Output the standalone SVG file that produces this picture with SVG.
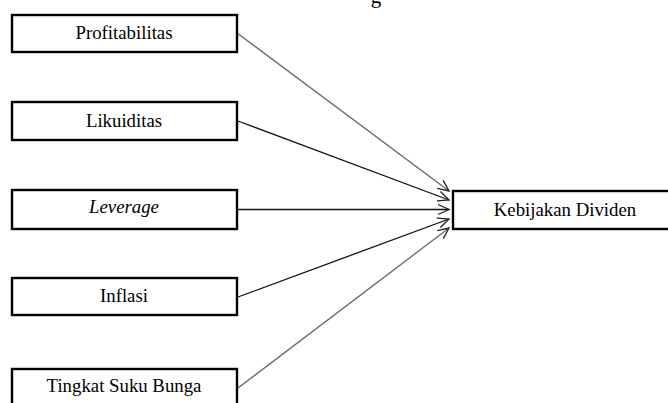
<svg xmlns="http://www.w3.org/2000/svg" width="668" height="403" viewBox="0 0 668 403">
<style>
.box{fill:#fff;stroke:#000;stroke-width:2.4}
.lbl{font-family:"Liberation Serif","Times New Roman",serif;font-size:18.8px;fill:#000;text-anchor:middle}
.ln{fill:none;stroke:#111;stroke-width:1.3}
.lg{fill:none;stroke:#666;stroke-width:1.3}
</style>
<defs>
<marker id="ah" markerUnits="userSpaceOnUse" markerWidth="14" markerHeight="12" refX="12" refY="6" orient="auto">
<path d="M1,1 L12,6 L1,11" fill="none" stroke="#222" stroke-width="1.3"/>
</marker>
</defs>
<rect width="668" height="403" fill="#fff"/>
<text class="lbl" x="376" y="3" style="font-size:21px">g</text>
<g id="connectors">
<line class="lg" x1="237" y1="33" x2="449" y2="191" marker-end="url(#ah)"/>
<line class="ln" x1="238" y1="121" x2="449" y2="200" marker-end="url(#ah)"/>
<line class="ln" x1="238" y1="209.5" x2="449" y2="209.5" marker-end="url(#ah)"/>
<line class="ln" x1="238" y1="297" x2="449" y2="219" marker-end="url(#ah)"/>
<line class="lg" x1="238" y1="388" x2="449" y2="228" marker-end="url(#ah)"/>
</g>
<g id="profitabilitas">
<rect class="box" x="12" y="15" width="225" height="37"/>
<text class="lbl" x="124" y="39">Profitabilitas</text>
</g>
<g id="likuiditas">
<rect class="box" x="12" y="102" width="225" height="38"/>
<text class="lbl" x="124" y="127">Likuiditas</text>
</g>
<g id="leverage">
<rect class="box" x="12" y="190" width="225" height="39"/>
<text class="lbl" x="124" y="213" font-style="italic">Leverage</text>
</g>
<g id="inflasi">
<rect class="box" x="12" y="278" width="225" height="37"/>
<text class="lbl" x="124" y="302">Inflasi</text>
</g>
<g id="tingkat-suku-bunga">
<rect class="box" x="12" y="369" width="225" height="45"/>
<text class="lbl" x="124" y="392">Tingkat Suku Bunga</text>
</g>
<g id="kebijakan-dividen">
<rect class="box" x="453" y="191" width="230" height="38"/>
<text class="lbl" x="565" y="216">Kebijakan Dividen</text>
</g>
</svg>
